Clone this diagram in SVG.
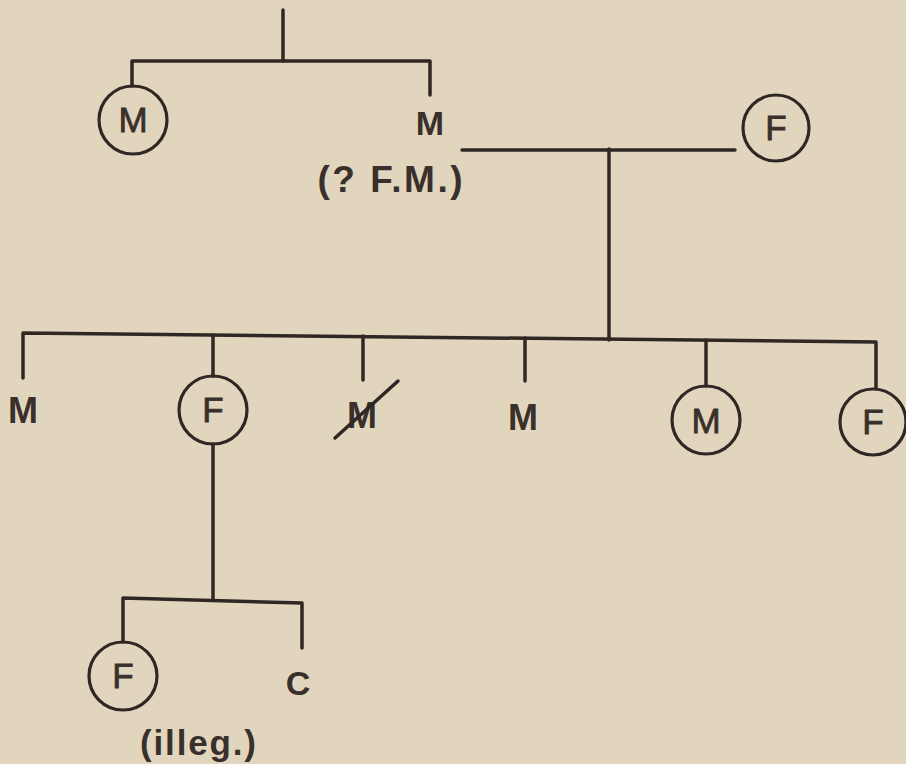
<svg xmlns="http://www.w3.org/2000/svg" width="906" height="764" viewBox="0 0 906 764">
<style>
.bg{fill:#e2d5be}
.ln{stroke:#2f2723;stroke-width:3.5;fill:none;stroke-linecap:round;stroke-linejoin:round}
.ci{stroke:#2f2723;stroke-width:3.2;fill:none}
.t{font-family:"Liberation Sans","DejaVu Sans",sans-serif;font-weight:bold;fill:#3a302b;text-anchor:middle}
.c{font-family:"Liberation Sans","DejaVu Sans",sans-serif;font-weight:normal;fill:#3a302b;text-anchor:middle;font-size:35px;stroke:#3a302b;stroke-width:0.8}
</style>
<rect class="bg" x="0" y="0" width="906" height="764"/>
<g id="connectors">
<path class="ln" d="M283 10 V61"/>
<path class="ln" d="M132 86 V61 H430 V95"/>
<path class="ln" d="M462 150 H735"/>
<path class="ln" d="M609 149 V340"/>
<path class="ln" d="M23 378 V333 L876 342 V388"/>
<path class="ln" d="M213 335 V376"/>
<path class="ln" d="M363 336 V380"/>
<path class="ln" d="M525 338 V381"/>
<path class="ln" d="M706 340 V386"/>
<path class="ln" d="M213 444 V600"/>
<path class="ln" d="M123 642 V598 L302 603 V648"/>
</g>
<g id="n-top-m-circle"><circle class="ci" cx="133" cy="120" r="34"/><text class="c" x="133" y="132">M</text></g>
<g id="n-top-m"><text class="t" x="430" y="135" font-size="34">M</text>
<text class="t" x="390" y="192" font-size="37" textLength="145" lengthAdjust="spacing">(? F.M.)</text></g>
<g id="n-top-f"><circle class="ci" cx="776" cy="128" r="33"/><text class="c" x="776" y="140">F</text></g>
<g id="n-c1"><text class="t" x="23" y="423" font-size="36">M</text></g>
<g id="n-c2"><circle class="ci" cx="213" cy="410" r="34"/><text class="c" x="213" y="422">F</text></g>
<g id="n-c3"><text class="t" x="362" y="428" font-size="36">M</text><path class="ln" d="M335 438 L398 381" stroke-width="3"/></g>
<g id="n-c4"><text class="t" x="523" y="430" font-size="36">M</text></g>
<g id="n-c5"><circle class="ci" cx="706" cy="420" r="34"/><text class="c" x="706" y="433">M</text></g>
<g id="n-c6"><circle class="ci" cx="873" cy="422" r="33"/><text class="c" x="873" y="434">F</text></g>
<g id="n-g1"><circle class="ci" cx="123" cy="676" r="34"/><text class="c" x="123" y="688">F</text>
<text class="t" x="198" y="755" font-size="35" textLength="116" lengthAdjust="spacing">(illeg.)</text></g>
<g id="n-g2"><text class="t" x="298" y="695" font-size="34">C</text></g>
</svg>
